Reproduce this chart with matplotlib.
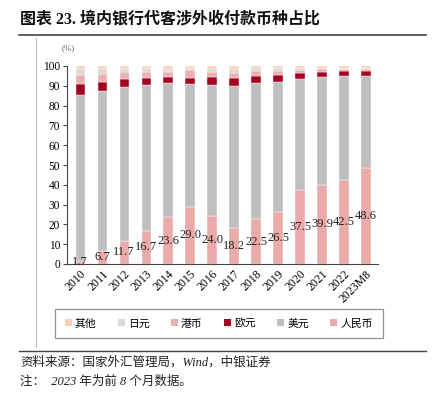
import matplotlib
matplotlib.use("Agg")
import matplotlib.pyplot as plt
from matplotlib.lines import Line2D
from matplotlib.patches import Patch
import numpy as np

plt.rcParams['font.family'] = ['Liberation Serif', 'Noto Sans CJK SC', 'DejaVu Sans']

years = ['2010', '2011', '2012', '2013', '2014', '2015', '2016', '2017',
         '2018', '2019', '2020', '2021', '2022', '2023M8']
rmb = [1.7, 6.7, 11.7, 16.7, 23.6, 29.0, 24.0, 18.2, 22.5, 26.5, 37.5, 39.9, 42.5, 48.6]
usd = [83.7, 80.5, 77.5, 73.7, 67.6, 61.9, 66.6, 71.8, 68.7, 65.3, 55.8, 54.5, 52.6, 46.5]
eur = [5.4, 4.7, 4.2, 3.7, 3.4, 3.2, 3.7, 3.9, 3.7, 3.7, 3.2, 2.7, 2.5, 2.5]
hkd = [4.8, 4.2, 3.4, 3.0, 2.5, 3.7, 2.7, 2.7, 2.6, 2.1, 1.6, 1.4, 1.0, 0.9]
jpy = [3.0, 2.5, 1.8, 1.7, 1.5, 1.2, 1.5, 1.7, 1.3, 1.4, 0.8, 0.6, 0.4, 0.6]
oth = [1.2, 1.2, 1.2, 1.0, 1.2, 0.9, 1.3, 1.5, 1.0, 0.8, 1.1, 0.9, 1.0, 0.9]

series_names = ['人民币', '美元', '欧元', '港币', '日元', '其他']
series_vals = [rmb, usd, eur, hkd, jpy, oth]
colors = ['#EAAAAA', '#BFBFBF', '#A50021', '#EBB0B0', '#D9D9D9', '#FAD0B0']

fig = plt.figure(figsize=(4.36, 3.94), dpi=100)
W, H = 436, 394
ax = fig.add_axes([67 / W, 1 - 264 / H, (378 - 67) / W, (264 - 66) / H])

x = np.arange(len(years))
bottom = np.zeros(len(years))
containers = []
for name, vals, c in zip(series_names, series_vals, colors):
    v = np.array(vals)
    bc = ax.bar(x, v, bottom=bottom, width=0.42, color=c, edgecolor='white',
                linewidth=0.3, label=name)
    containers.append(bc)
    bottom += v

ax.bar_label(containers[0], labels=[f'{v:.1f}' for v in rmb], label_type='center',
             fontsize=9, color='#222222', family='Liberation Serif')

ax.set_xlim(-0.6, 13.55)
ax.set_ylim(0, 100)
ax.set_yticks(range(0, 101, 10))
ax.set_xticks(x)
ax.set_xticklabels(years, rotation=45, ha='right', rotation_mode='anchor',
                   fontsize=8.5, family='Liberation Serif')
for t in ax.get_yticklabels():
    t.set_fontsize(8.3)
ax.tick_params(axis='x', length=0, pad=3)
ax.tick_params(axis='y', length=3, width=0.8, color='#444444', pad=2)
for s in ['top', 'right']:
    ax.spines[s].set_visible(False)
for s in ['left', 'bottom']:
    ax.spines[s].set_color('#444444')
    ax.spines[s].set_linewidth(0.8)

fig.text(62 / W, 1 - 48 / H, '(%)', fontsize=6.5, color='#666666', va='center', ha='left')

# title
fig.text(20 / W, 1 - 19 / H, '图表 23. 境内银行代客涉外收付款币种占比', fontsize=11.5,
         fontweight='bold', va='center', ha='left', color='#111111')
fig.add_artist(Line2D([19 / W, 426 / W], [1 - 35 / H, 1 - 35 / H], color='#444444', lw=1.2))
fig.add_artist(Line2D([36 / W, 36 / W], [1 - 38 / H, 1 - 347 / H], color='#BBBBBB', lw=0.8))
fig.add_artist(Line2D([19 / W, 426 / W], [1 - 351 / H, 1 - 351 / H], color='#444444', lw=1.0))

# legend
order = [5, 4, 3, 2, 1, 0]
handles = [Patch(facecolor=colors[i], edgecolor='none') for i in order]
labels = [series_names[i] for i in order]
leg = fig.legend(handles, labels, loc='center', ncol=6, mode='expand',
                 bbox_to_anchor=(50 / W, 1 - 342 / H, 338 / W, 37 / H),
                 fontsize=7.8, frameon=True, fancybox=False,
                 handlelength=0.6, handleheight=0.6, handletextpad=0.3,
                 borderpad=0.9, columnspacing=1.5)
leg.get_frame().set_edgecolor('#777777')
leg.get_frame().set_linewidth(0.9)

fig.text(20 / W, 1 - 362 / H, '资料来源：国家外汇管理局，Wind，中银证券', fontsize=9,
         style='italic', va='center', ha='left', color='#222222')
fig.text(20 / W, 1 - 382 / H, '注：  2023 年为前 8 个月数据。', fontsize=9,
         style='italic', va='center', ha='left', color='#222222')

fig.savefig('out.png', dpi=100)
